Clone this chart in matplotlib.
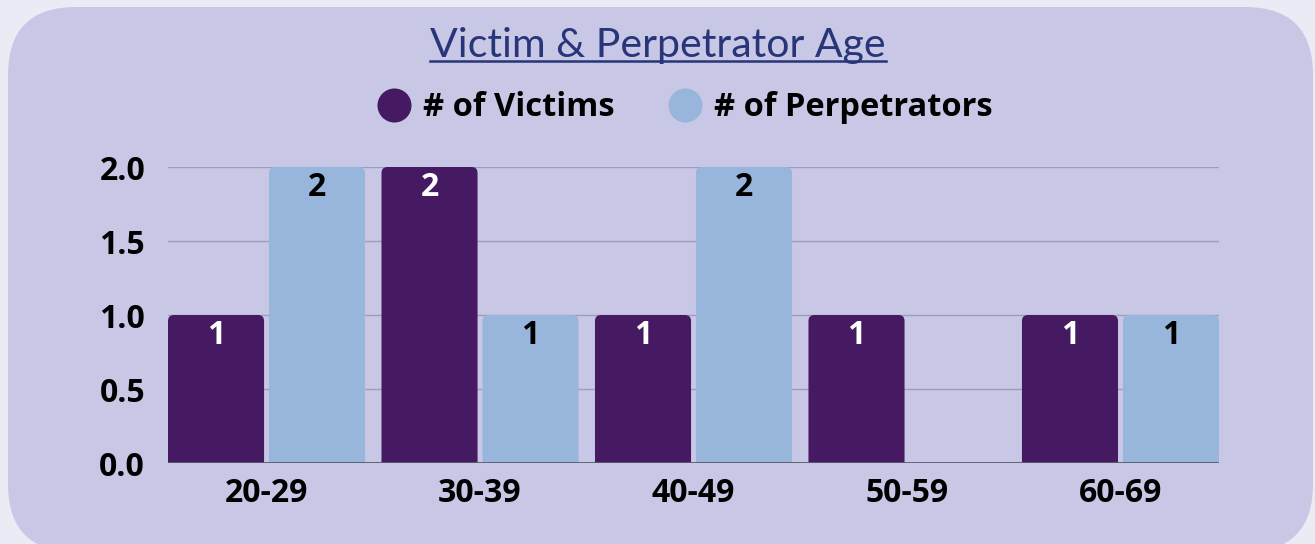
import numpy as np
import matplotlib
matplotlib.use("Agg")
import matplotlib.pyplot as plt
from matplotlib.patches import FancyBboxPatch
from matplotlib.lines import Line2D

# Chart data
AGE_GROUPS = ["20-29", "30-39", "40-49", "50-59", "60-69"]
VICTIMS = [1, 2, 1, 1, 1]
PERPETRATORS = [2, 1, 2, 0, 1]
SERIES_NAMES = ["# of Victims", "# of Perpetrators"]
Y_TICKS = [0.0, 0.5, 1.0, 1.5, 2.0]

# Styling
W, H, DPI = 1315, 544, 100
OUTER_BG = "#ebebf5"
PANEL_BG = "#c8c8e6"
VICTIM_COLOR = "#461963"
PERP_COLOR = "#98b5dc"
TITLE_COLOR = "#283579"
GRID_COLOR = "#9d9dbb"
FONT = "Open Sans"
LABEL_SIZE = 23

BAR_W = 0.45
BAR_GAP = 0.023


def rounded_bars(ax, bars, color, px_per_x, px_per_y, radius_px=6):
    # swap plain bars for ones with rounded top corners
    for b in bars:
        b.set_visible(False)
        h = b.get_height()
        if h <= 0:
            continue
        x0 = b.get_x()
        w = b.get_width()
        ext = 0.06  # push the bottom below the axis so only top corners show
        p = FancyBboxPatch((x0, -ext), w, h + ext,
                           boxstyle="round,pad=0,rounding_size=%f" % (radius_px / px_per_x),
                           mutation_aspect=px_per_x / px_per_y,
                           facecolor=color, edgecolor="none", zorder=2,
                           clip_on=True)
        ax.add_patch(p)


def main():
    fig = plt.figure(figsize=(W / DPI, H / DPI), dpi=DPI)
    fig.patch.set_facecolor(OUTER_BG)

    # background panel in pixel coords
    bg = fig.add_axes([0, 0, 1, 1], zorder=-5)
    bg.set_xlim(0, W)
    bg.set_ylim(H, 0)
    bg.axis("off")
    bg.add_patch(FancyBboxPatch((8, 7), 1305, 545,
                                boxstyle="round,pad=0,rounding_size=68",
                                facecolor=PANEL_BG, edgecolor="none"))

    left, right = 168 / W, 1219 / W
    bottom, top = (H - 463) / H, (H - 167) / H
    ax = fig.add_axes([left, bottom, right - left, top - bottom])
    ax.set_facecolor("none")

    x = np.arange(len(AGE_GROUPS))
    off = (BAR_W + BAR_GAP) / 2
    half = BAR_W + BAR_GAP / 2
    ax.set_xlim(-half, len(AGE_GROUPS) - 1 + half)
    ax.set_ylim(0, 2.0)

    px_per_x = (1219 - 168) / (len(AGE_GROUPS) - 1 + 2 * half)
    px_per_y = (463 - 167) / 2.0

    b1 = ax.bar(x - off, VICTIMS, BAR_W, color=VICTIM_COLOR, zorder=2)
    b2 = ax.bar(x + off, PERPETRATORS, BAR_W, color=PERP_COLOR, zorder=2)
    rounded_bars(ax, b1, VICTIM_COLOR, px_per_x, px_per_y)
    rounded_bars(ax, b2, PERP_COLOR, px_per_x, px_per_y)

    # value labels inside the bar tops
    for bars, vals, tc in [(b1, VICTIMS, "white"), (b2, PERPETRATORS, "black")]:
        for b, v in zip(bars, vals):
            if v <= 0:
                continue
            ax.annotate(str(v), (b.get_x() + b.get_width() / 2, v),
                        xytext=(0, -21 * 72 / DPI), textcoords="offset points",
                        ha="center", va="center", color=tc, fontsize=LABEL_SIZE,
                        fontweight="bold", family=FONT, zorder=4)

    # grid + axes styling
    ax.set_yticks(Y_TICKS)
    ax.set_yticklabels(["%.1f" % t for t in Y_TICKS])
    for t in Y_TICKS[1:]:
        ax.axhline(t, color=GRID_COLOR, lw=1.0, zorder=1)
    ax.axhline(0, color="#5c5c6c", lw=1.3, zorder=3)
    ax.set_xticks(x)
    ax.set_xticklabels(AGE_GROUPS)
    for s in ax.spines.values():
        s.set_visible(False)
    ax.tick_params(axis="y", length=0, pad=16.5)
    ax.tick_params(axis="x", length=0, pad=10)
    for lab in ax.get_xticklabels() + ax.get_yticklabels():
        lab.set_fontfamily(FONT)
        lab.set_fontweight("bold")
        lab.set_fontsize(LABEL_SIZE)
        lab.set_color("black")

    # legend
    handles = [Line2D([], [], marker="o", ls="none", markersize=24.5,
                      markerfacecolor=c, markeredgecolor="none")
               for c in (VICTIM_COLOR, PERP_COLOR)]
    fig.legend(handles, SERIES_NAMES, loc="center",
               bbox_to_anchor=(686 / W, 1 - 108 / H), ncol=2,
               frameon=False, handlelength=0.9, handletextpad=0.45,
               columnspacing=1.7,
               prop={"family": FONT, "weight": "bold", "size": 23.5})

    # title with underline
    title = fig.text(658 / W, 1 - 46 / H, "Victim & Perpetrator Age",
                     ha="center", va="center", fontsize=29.5, family="Lato",
                     color=TITLE_COLOR)
    fig.canvas.draw()
    bb = title.get_window_extent()
    y_line = bb.y0 + 4
    fig.add_artist(Line2D([bb.x0 / W, bb.x1 / W], [y_line / H, y_line / H],
                          transform=fig.transFigure, color=TITLE_COLOR, lw=1.8))

    fig.savefig("out.png", dpi=DPI, facecolor=fig.get_facecolor())


if __name__ == "__main__":
    main()
